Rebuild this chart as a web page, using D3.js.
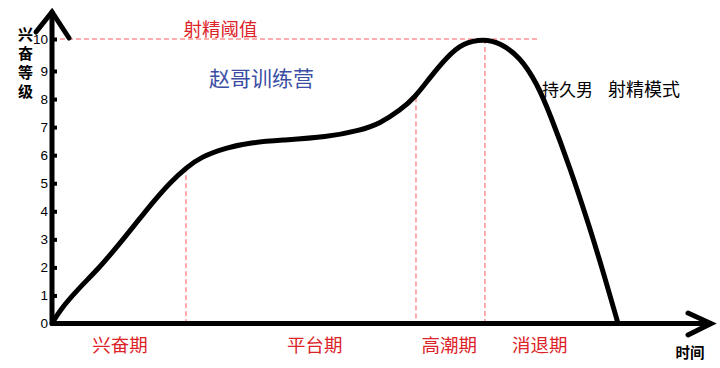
<!DOCTYPE html>
<html><head><meta charset="utf-8">
<script src="https://cdn.jsdelivr.net/npm/d3@7"></script>
<style>
html,body{margin:0;padding:0;background:#fff;}
svg{display:block;}
</style></head>
<body>
<svg id="c" width="720" height="368"></svg>
<script>
// ---- data ----
const curveT = [0, 1.21, 3.79, 7.27, 10.30, 12.88, 15.30, 17.88, 20.45, 22.42, 26.52, 30.45, 34.55, 41.67, 46.67, 49.70, 52.73, 55.0, 57.27, 59.85, 62.27, 65.45, 67.88, 70.91, 73.48, 75.45, 78.48, 81.52, 83.79, 85.76];
const curveV = [0, 0.48, 1.19, 2.01, 2.86, 3.62, 4.33, 5.03, 5.57, 5.92, 6.28, 6.46, 6.53, 6.64, 6.88, 7.13, 7.60, 8.06, 8.77, 9.44, 9.88, 10, 9.88, 9.44, 8.56, 7.47, 5.56, 3.39, 1.62, 0];
const yTicks = [0,1,2,3,4,5,6,7,8,9,10];
const threshold = 10;
const thresholdEnd = 73.6;
const phaseBoundT = [20.3, 55.15, 65.6];
const phaseBoundV = [5.57, 8.06, 10];
const phaseNames = ["兴奋期", "平台期", "高潮期", "消退期"];
const phaseLabelT = [10.3, 39.8, 60.2, 73.9];
const yTitle = ["兴","奋","等","级"];
const xTitle = "时间";
const thresholdLabel = "射精阈值";
const brandLabel = "赵哥训练营";
const modeLabel = ["持久男", "射精模式"];

// ---- drawing ----
const svg = d3.select("#c");
const x = d3.scaleLinear().domain([0,100]).range([52,712]);
const y = d3.scaleLinear().domain([0,9,10]).range([323.5,71,39]);
const CJK = "'Noto Sans CJK SC','Noto Sans',sans-serif";
const red = "#dc2329";
const dashRed = "#ff5a5a";

// threshold dashed line
svg.append("line")
  .attr("x1", x(0)).attr("x2", x(thresholdEnd))
  .attr("y1", y(threshold)).attr("y2", y(threshold))
  .attr("stroke", dashRed).attr("stroke-width", 1).attr("stroke-dasharray", "5,3");

// phase boundary dashed lines
svg.selectAll("line.pb").data(phaseBoundT).join("line")
  .attr("class","pb")
  .attr("x1", d => x(d)).attr("x2", d => x(d))
  .attr("y1", (d,i) => y(phaseBoundV[i])).attr("y2", y(0))
  .attr("stroke", dashRed).attr("stroke-width", 1).attr("stroke-dasharray", "5,3");

// y axis ticks & labels
const ya = d3.axisLeft(y).tickValues(yTicks).tickSizeInner(-5).tickSizeOuter(0).tickPadding(4).tickFormat(d3.format("d"));
const gy = svg.append("g").attr("transform", `translate(${x(0)},0)`).call(ya);
gy.select(".domain").remove();
gy.selectAll(".tick line").attr("stroke", "#000").attr("stroke-width", 4);
gy.selectAll(".tick text").attr("font-family", "Arial,'Liberation Sans',sans-serif").attr("font-size", 13.5).attr("fill", "#000");

// curve
const pts = curveT.map((t,i) => [t, curveV[i]]);
svg.append("path")
  .attr("d", d3.line().x(d => x(d[0])).y(d => y(d[1])).curve(d3.curveBasis)(pts))
  .attr("fill","none").attr("stroke","#000").attr("stroke-width",5).attr("stroke-linejoin","round");

// axes with arrows
const ax = svg.append("g").attr("stroke","#000").attr("stroke-width",5).attr("fill","none").attr("stroke-linecap","round");
ax.append("path").attr("d", `M${x(0)},${y(0)} V12`);
ax.append("path").attr("d", `M36,32 L${x(0)},12 L69,38`).attr("stroke-linejoin","miter");
ax.append("path").attr("d", `M${x(0)},${y(0)} H710`);
ax.append("path").attr("d", `M688,313 L711,${y(0)} L688,335`).attr("stroke-linejoin","miter");

// y title
svg.selectAll("text.yt").data(yTitle).join("text")
  .attr("class","yt")
  .attr("x", 25.5).attr("y", (d,i) => 40 + i*19)
  .attr("text-anchor","middle")
  .attr("font-family", CJK).attr("font-size", 15).attr("font-weight","bold").attr("fill","#000")
  .text(d => d);

// x title
svg.append("text").attr("x", 690).attr("y", 358).attr("text-anchor","middle")
  .attr("font-family", CJK).attr("font-size", 14.5).attr("font-weight","bold").attr("fill","#000")
  .text(xTitle);

// phase labels
svg.selectAll("text.ph").data(phaseNames).join("text")
  .attr("class","ph")
  .attr("x", (d,i) => x(phaseLabelT[i])).attr("y", 352)
  .attr("text-anchor","middle")
  .attr("font-family", CJK).attr("font-size", 18.5).attr("fill", red)
  .text(d => d);

// threshold label
svg.append("text").attr("x", 220.5).attr("y", 36).attr("text-anchor","middle")
  .attr("font-family", CJK).attr("font-size", 18.5).attr("fill", red)
  .text(thresholdLabel);

// brand label
svg.append("text").attr("x", 261.5).attr("y", 86).attr("text-anchor","middle")
  .attr("font-family", CJK).attr("font-size", 21).attr("fill", "#3a4ea3")
  .text(brandLabel);

// mode label
svg.append("text").attr("x", 542).attr("y", 96)
  .attr("font-family", CJK).attr("font-size", 17).attr("fill", "#000")
  .text(modeLabel[0]);
svg.append("text").attr("x", 680).attr("y", 96).attr("text-anchor","end")
  .attr("font-family", CJK).attr("font-size", 18).attr("fill", "#000")
  .text(modeLabel[1]);
</script>
</body></html>
